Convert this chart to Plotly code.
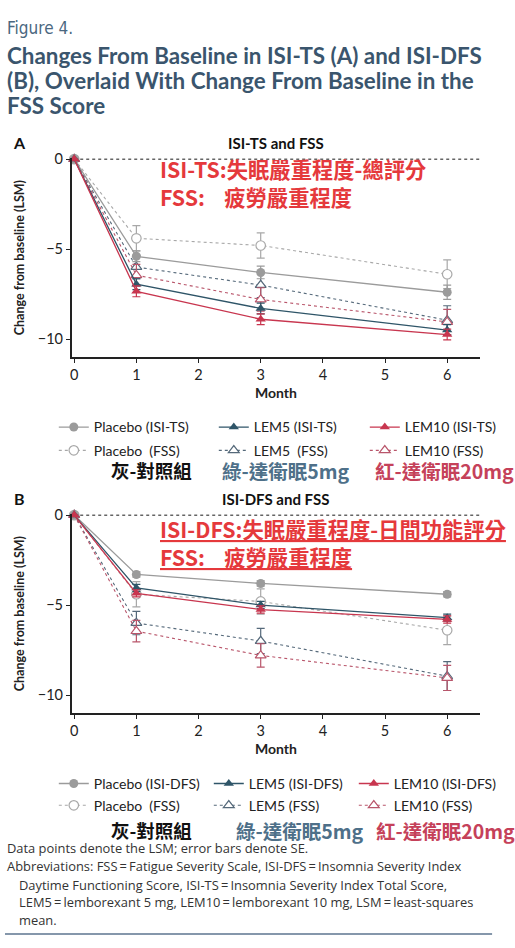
import plotly.graph_objects as go

# --- data ---
months = [0, 1, 3, 6]

# panel A: ISI-TS
placebo_isits = [0, -5.4, -6.3, -7.4]
placebo_isits_se = [None, 0.3, 0.35, 0.4]
lem5_isits = [0, -6.95, -8.3, -9.5]
lem5_isits_se = [None, 0.3, 0.3, 0.3]
lem10_isits = [0, -7.35, -8.9, -9.75]
lem10_isits_se = [None, 0.3, 0.3, 0.3]

# panel B: ISI-DFS
placebo_isidfs = [0, -3.3, -3.8, -4.4]
placebo_isidfs_se = [None, 0.15, 0.15, 0.15]
lem5_isidfs = [0, -4.05, -5.0, -5.7]
lem5_isidfs_se = [None, 0.2, 0.2, 0.2]
lem10_isidfs = [0, -4.35, -5.25, -5.8]
lem10_isidfs_se = [None, 0.2, 0.2, 0.2]

# FSS (same in both panels)
placebo_fss = [0, -4.4, -4.8, -6.4]
placebo_fss_se = [None, 0.7, 0.7, 0.8]
lem5_fss = [0, -6.0, -7.0, -8.95]
lem5_fss_se = [None, 0.65, 0.7, 0.8]
lem10_fss = [0, -6.45, -7.8, -9.05]
lem10_fss_se = [None, 0.6, 0.65, 0.7]

x_ticks = [0, 1, 2, 3, 4, 5, 6]
y_ticks = [0, -5, -10]

W, H = 515, 948
GRAY = "#9b9b9b"
TEAL = "#2f5568"
RED = "#c8364f"
NAVY = "#3a556d"
FONT = "Lato, Noto Sans, sans-serif"
CJK = "Noto Sans CJK TC"


def px(x):
    return x / W


def py(y):
    return 1 - y / H


fig = go.Figure()


def add_series(x, y, se, name, color, symbol, dash, xa, ya, legend, lw, fill=True):
    fig.add_trace(go.Scatter(
        x=x, y=y, name=name, mode="lines+markers",
        xaxis=xa, yaxis=ya, legend=legend, legendwidth=lw,
        line=dict(color=color, width=1.3 if fill else 1.1, dash=dash),
        marker=dict(symbol=symbol, size=9 if fill else 9.5,
                    color=color if fill else "white",
                    line=dict(color=color, width=0 if fill else 1.2)),
        error_y=dict(type="data", array=se, color=color, thickness=1.2, width=4),
        cliponaxis=False,
    ))


# panel A
add_series(months, placebo_fss, placebo_fss_se, "Placebo  (FSS)", "#a8a8a8", "circle", "dot", "x", "y", "legend2", 115, fill=False)
add_series(months, lem5_fss, lem5_fss_se, "LEM5  (FSS)", "#55697a", "triangle-up", "dot", "x", "y", "legend2", 106, fill=False)
add_series(months, lem10_fss, lem10_fss_se, "LEM10 (FSS)", "#b9566b", "triangle-up", "dot", "x", "y", "legend2", 100, fill=False)
add_series(months, placebo_isits, placebo_isits_se, "Placebo (ISI-TS)", GRAY, "circle", "solid", "x", "y", "legend", 115)
add_series(months, lem5_isits, lem5_isits_se, "LEM5 (ISI-TS)", TEAL, "triangle-up", "solid", "x", "y", "legend", 106)
add_series(months, lem10_isits, lem10_isits_se, "LEM10 (ISI-TS)", RED, "triangle-up", "solid", "x", "y", "legend", 100)

# panel B
add_series(months, placebo_fss, placebo_fss_se, "Placebo  (FSS)", "#a8a8a8", "circle", "dot", "x2", "y2", "legend4", 110, fill=False)
add_series(months, lem5_fss, lem5_fss_se, "LEM5 (FSS)", "#55697a", "triangle-up", "dot", "x2", "y2", "legend4", 100, fill=False)
add_series(months, lem10_fss, lem10_fss_se, "LEM10 (FSS)", "#b9566b", "triangle-up", "dot", "x2", "y2", "legend4", 100, fill=False)
add_series(months, placebo_isidfs, placebo_isidfs_se, "Placebo (ISI-DFS)", GRAY, "circle", "solid", "x2", "y2", "legend3", 110)
add_series(months, lem5_isidfs, lem5_isidfs_se, "LEM5 (ISI-DFS)", TEAL, "triangle-up", "solid", "x2", "y2", "legend3", 100)
add_series(months, lem10_isidfs, lem10_isidfs_se, "LEM10 (ISI-DFS)", RED, "triangle-up", "solid", "x2", "y2", "legend3", 100)

axis_common = dict(showline=True, linecolor="#222", linewidth=1.6, ticks="outside",
                   ticklen=4, tickwidth=1.4, tickcolor="#222", showgrid=False,
                   zeroline=False, tickfont=dict(family=FONT, size=14.5, color="#222"))
xdom = [px(70), px(480)]
xtitle = dict(text="<b>Month</b>", font=dict(family=FONT, size=14, color="#222"), standoff=6)
ytitle = dict(text="<b>Change from baseline (LSM)</b>", font=dict(family=FONT, size=12.5, color="#222"), standoff=10)

fig.update_layout(
    width=W, height=H, margin=dict(l=0, r=0, t=0, b=0),
    paper_bgcolor="white", plot_bgcolor="white",
    xaxis=dict(domain=xdom, range=[-0.04, 6.53], tickvals=x_ticks, anchor="y", title=xtitle, **axis_common),
    yaxis=dict(domain=[py(352), py(151.5)], range=[-11, 0.05], tickvals=y_ticks, anchor="x", title=ytitle, **axis_common),
    xaxis2=dict(domain=xdom, range=[-0.04, 6.53], tickvals=x_ticks, anchor="y2", title=xtitle, **axis_common),
    yaxis2=dict(domain=[py(711), py(510.5)], range=[-11, 0.05], tickvals=y_ticks, anchor="x2", title=ytitle, **axis_common),
)

leg = dict(orientation="h", xanchor="left", yanchor="middle", bgcolor="rgba(0,0,0,0)",
           font=dict(family=FONT, size=14, color="#222"), traceorder="normal")
fig.update_layout(
    legend=dict(x=px(52), y=py(423), **leg),
    legend2=dict(x=px(52), y=py(446.5), **leg),
    legend3=dict(x=px(52), y=py(782.5), **leg),
    legend4=dict(x=px(52), y=py(804.5), **leg),
)

# zero reference lines
for ya, xa in (("y", "x"), ("y2", "x2")):
    fig.add_shape(type="line", xref=xa, yref=ya, x0=0, x1=6.53, y0=0, y1=0,
                  line=dict(color="#333", width=1.1, dash="dot"), layer="below")


def note(x, y, text, size, color="#222", family=FONT, xanchor="left"):
    fig.add_annotation(x=px(x), y=py(y), xref="paper", yref="paper", text=text,
                       showarrow=False, xanchor=xanchor, yanchor="middle",
                       font=dict(family=family, size=size, color=color))


# header
note(3, 20, "Figure 4.", 17, "#4a6780", "DejaVu Sans Condensed, Liberation Sans Narrow, sans-serif")
note(3, 48, "<b>Changes From Baseline in ISI-TS (A) and ISI-DFS</b>", 22.4, NAVY)
note(3, 73, "<b>(B), Overlaid With Change From Baseline in the</b>", 22.4, NAVY)
note(3, 98, "<b>FSS Score</b>", 22.4, NAVY)

# panel labels / titles
note(18, 136, "<b>A</b>", 16, "#111", xanchor="center")
note(275, 136, "<b>ISI-TS and FSS</b>", 15, "#111", xanchor="center")
note(18, 495, "<b>B</b>", 16, "#111", xanchor="center")
note(275, 495, "<b>ISI-DFS and FSS</b>", 15, "#111", xanchor="center")

# red overlay notes
RNOTE = "#e5393c"
note(157, 162, "<b>ISI-TS:失眠嚴重程度-總評分</b>", 21.3, RNOTE, CJK)
note(157, 190, "<b>FSS:    疲勞嚴重程度</b>", 21.3, RNOTE, CJK)
note(157, 525, "<b><u>ISI-DFS:失眠嚴重程度-日間功能評分</u></b>", 21.3, RNOTE, CJK)
note(157, 553, "<b><u>FSS:    疲勞嚴重程度</u></b>", 21.3, RNOTE, CJK)

# colour key notes under legends
note(107, 466, "<b>灰-對照組</b>", 18.5, "#111", CJK)
note(219, 466, "<b>綠-達衛眠5mg</b>", 19.5, "#4e7089", CJK)
note(372, 466, "<b>紅-達衛眠20mg</b>", 19.5, "#c5415a", CJK)
note(107, 829, "<b>灰-對照組</b>", 18.5, "#111", CJK)
note(233, 829, "<b>綠-達衛眠5mg</b>", 19.5, "#4e7089", CJK)
note(373, 829, "<b>紅-達衛眠20mg</b>", 19.5, "#c5415a", CJK)

# footnotes
FN = "#333"
FNF = "Open Sans, sans-serif"
EQ = "\u2009=\u2009"
note(3, 847, "Data points denote the LSM; error bars denote SE.", 12.9, FN, FNF)
note(3, 865, f"Abbreviations: FSS{EQ}Fatigue Severity Scale, ISI-DFS{EQ}Insomnia Severity Index", 12.9, FN, FNF)
note(15, 884, f"Daytime Functioning Score, ISI-TS{EQ}Insomnia Severity Index Total Score,", 12.9, FN, FNF)
note(15, 902, f"LEM5{EQ}lemborexant 5 mg, LEM10{EQ}lemborexant 10 mg, LSM{EQ}least-squares", 12.9, FN, FNF)
note(15, 920, "mean.", 12.9, FN, FNF)

fig.add_shape(type="line", xref="paper", yref="paper", x0=px(3), x1=px(492),
              y0=py(934), y1=py(934), line=dict(color="#8597ab", width=2))

fig.write_html("out.html", config={"displayModeBar": False},
               post_script="document.body.style.margin='0';")
